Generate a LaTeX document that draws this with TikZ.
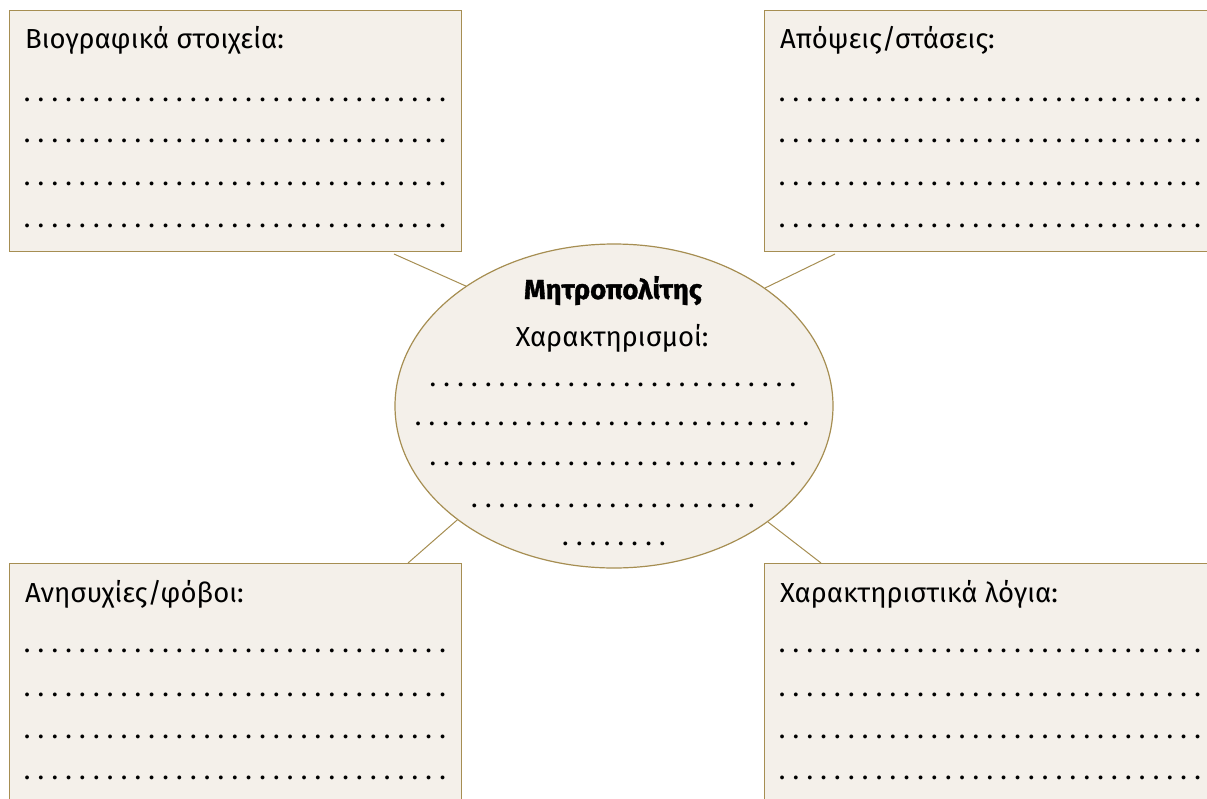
\documentclass[tikz,border=0pt]{standalone}
\usepackage{fontspec}
\setmainfont{Fira Sans}
\newfontfamily\heavyfont[FakeBold=1.2]{Fira Sans}
\usetikzlibrary{positioning,shapes.geometric}
\definecolor{paper}{RGB}{244,240,234}
\definecolor{gold}{RGB}{166,142,82}
\newlength{\dotgap}
\setlength{\dotgap}{13.85pt}
\newcommand{\dotrow}[1]{\foreach \k in {1,...,#1}{\makebox[\dotgap][c]{.}}}

\begin{document}
\begin{tikzpicture}[x=1pt, y=-1pt,
  notebox/.style={draw=gold, line width=1.4pt, fill=paper, inner sep=0pt, minimum width=452pt, minimum height=241pt, anchor=north west},
  oval/.style={ellipse, draw=gold, line width=1.2pt, fill=paper, inner sep=0pt, minimum width=438pt, minimum height=324pt},
  headtxt/.style={font=\fontsize{27.5}{32}\selectfont, anchor=base west, inner sep=0pt},
  midtxt/.style={font=\fontsize{27.5}{32}\selectfont, anchor=base, inner sep=0pt},
  dottxt/.style={font=\fontsize{27.5}{32}\selectfont, inner sep=0pt},
  link/.style={draw=gold, line width=1pt}
]
\clip (0,0) rectangle (1207,798);

% boxes
\node[notebox] (bio) at (9,10) {};
\node[notebox] (views) at (764,10) {};
\node[notebox] (fears) at (9,563) {};
\node[notebox] (words) at (764,563) {};
\node[oval] (metro) at (614,406) {};

% titles
\node[headtxt] (biot) at (25,48) {Βιογραφικά στοιχεία:};
\node[headtxt] (viewst) at (780,48) {Απόψεις/στάσεις:};
\node[headtxt] (fearst) at (25,602) {Ανησυχίες/φόβοι:};
\node[headtxt] (wordst) at (780,602) {Χαρακτηριστικά λόγια:};

% dotted lines in the boxes
\foreach \y [count=\n] in {101,142,185,227} {
  \node[dottxt, anchor=base west] (biod\n) at (20,\y) {\dotrow{31}};
  \node[dottxt, anchor=base west] (viewsd\n) at (775,\y) {\dotrow{31}};
}
\foreach \y [count=\n] in {652,696,738,779} {
  \node[dottxt, anchor=base west] (fearsd\n) at (20,\y) {\dotrow{31}};
  \node[dottxt, anchor=base west] (wordsd\n) at (775,\y) {\dotrow{31}};
}

% ellipse text
\node[midtxt, font=\fontsize{27.5}{32}\selectfont\heavyfont\bfseries] (metroh) at (613,299) {Μητροπολίτης};
\node[midtxt] (metros) at (612,346) {Χαρακτηρισμοί:};
\node[dottxt, anchor=base] (md1) at (613,386) {\dotrow{27}};
\node[dottxt, anchor=base] (md2) at (612,425) {\dotrow{29}};
\node[dottxt, anchor=base] (md3) at (613,465) {\dotrow{27}};
\node[dottxt, anchor=base] (md4) at (613,507) {\dotrow{21}};
\node[dottxt, anchor=base] (md5) at (614,545) {\dotrow{8}};

% connectors
\coordinate (cbio) at (394,254);
\coordinate (cviews) at (835,254);
\coordinate (cfears) at (408,563);
\coordinate (cwords) at (821,563);
\draw[link] (metro.141.8) -- (cbio);
\draw[link] (metro.38.2) -- (cviews);
\draw[link] (metro.216.2) -- (cfears);
\draw[link] (metro.323.8) -- (cwords);

\end{tikzpicture}
\end{document}
